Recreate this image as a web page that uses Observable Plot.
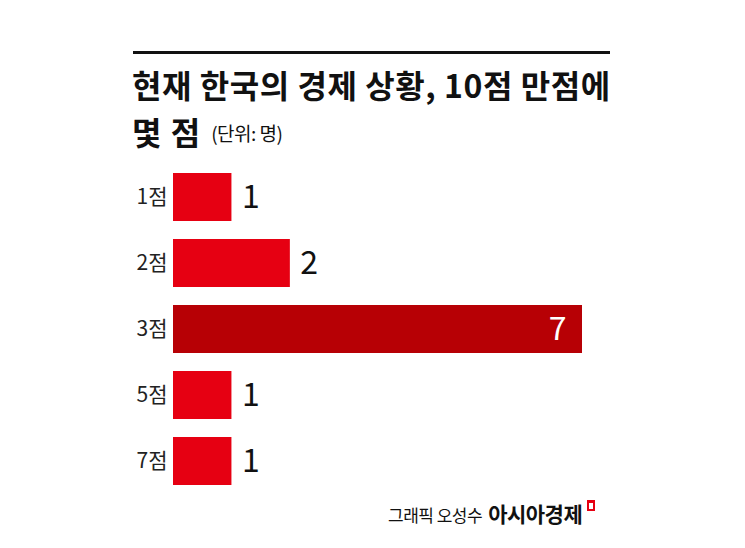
<!DOCTYPE html>
<html><head><meta charset="utf-8">
<script src="https://cdn.jsdelivr.net/npm/d3@7"></script>
<script src="https://cdn.jsdelivr.net/npm/@observablehq/plot@0.6"></script>
<style>
body{margin:0;background:#fff;width:745px;height:548px;overflow:hidden;font-family:"Noto Sans CJK KR","Noto Sans",sans-serif;}
#head{position:relative;height:160px;}
#rule{position:absolute;left:133px;top:51px;width:477px;height:3px;background:#111;}
#title{position:absolute;left:132px;top:61px;font-size:32px;font-weight:700;letter-spacing:0.55px;color:#111;white-space:nowrap;line-height:47px;}
#title .sub{font-size:19px;font-weight:400;letter-spacing:-0.5px;margin-left:10px;vertical-align:4px;}
#title .l2{letter-spacing:1px;}
#foot{position:relative;height:48px;}
#credit{position:absolute;left:388px;top:-2px;white-space:nowrap;color:#111;}
#credit .a{font-size:17px;letter-spacing:-0.5px;}
#credit .b{font-size:21px;font-weight:700;letter-spacing:-0.5px;margin-left:6px;}
#credit .ic{display:inline-block;width:4px;height:6px;border:2px solid #e60012;border-top-width:3px;margin-left:5px;vertical-align:11px;}
</style></head>
<body>
<div id="head"><div id="rule"></div>
<div id="title">현재 한국의 경제 상황, 10점 만점에<br><span class="l2">몇 점</span><span class="sub">(단위: 명)</span></div>
</div>
<div id="chart"></div>
<div id="foot"><div id="credit"><span class="a">그래픽 오성수</span><span class="b">아시아경제</span><span class="ic"></span></div></div>
<script>
const categories = ["1점","2점","3점","5점","7점"];
const values = [1,2,7,1,1];
const highlight = "3점";
const data = categories.map((c,i)=>({cat:c, v:values[i]}));
const red = "#e60012", dark = "#b70005";
const chart = Plot.plot({
  width:745, height:340,
  marginLeft:173, marginRight:163, marginTop:3, marginBottom:4.5,
  x:{domain:[0,7], axis:null},
  y:{domain:categories, paddingInner:0.28, paddingOuter:0.14, label:null},
  style:{fontFamily:'"Noto Sans CJK KR", sans-serif', background:"#fff"},
  marks:[
    Plot.barX(data,{x:"v", y:"cat", fill:d=>d.cat===highlight?dark:red}),
    Plot.axisY({tickSize:0, tickPadding:6, fontSize:21, fill:"#222", label:null, letterSpacing:"-1.5px"}),
    Plot.text(data.filter(d=>d.cat!==highlight),{x:"v", y:"cat", text:d=>String(d.v), textAnchor:"start", dx:10, fontSize:32, fontWeight:400, fill:"#111"}),
    Plot.text(data.filter(d=>d.cat===highlight),{x:"v", y:"cat", text:d=>String(d.v), textAnchor:"end", dx:-16, fontSize:32, fontWeight:400, fill:"#fff"})
  ]
});
document.getElementById("chart").appendChild(chart);
</script>
</body></html>
